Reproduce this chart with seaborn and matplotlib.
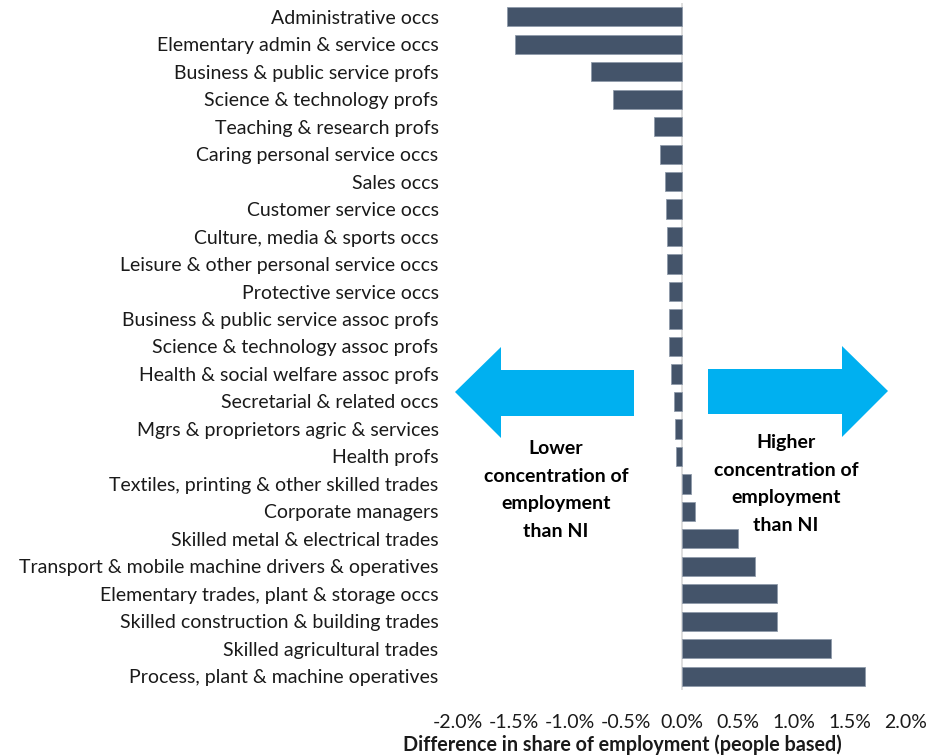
import matplotlib
matplotlib.use("Agg")
import matplotlib.pyplot as plt
from matplotlib.patches import Polygon
from matplotlib.ticker import FuncFormatter
import seaborn as sns
import pandas as pd

categories = [
    "Administrative occs",
    "Elementary admin & service occs",
    "Business & public service profs",
    "Science & technology profs",
    "Teaching & research profs",
    "Caring personal service occs",
    "Sales occs",
    "Customer service occs",
    "Culture, media & sports occs",
    "Leisure & other personal service occs",
    "Protective service occs",
    "Business & public service assoc profs",
    "Science & technology assoc profs",
    "Health & social welfare assoc profs",
    "Secretarial & related occs",
    "Mgrs & proprietors agric & services",
    "Health profs",
    "Textiles, printing & other skilled trades",
    "Corporate managers",
    "Skilled metal & electrical trades",
    "Transport & mobile machine drivers & operatives",
    "Elementary trades, plant & storage occs",
    "Skilled construction & building trades",
    "Skilled agricultural trades",
    "Process, plant & machine operatives",
]
values = [-1.56, -1.49, -0.81, -0.62, -0.25, -0.20, -0.15, -0.14, -0.13, -0.13,
          -0.12, -0.12, -0.12, -0.10, -0.07, -0.06, -0.05, 0.08, 0.12, 0.50,
          0.65, 0.85, 0.85, 1.33, 1.63]
xticks = [-2.0, -1.5, -1.0, -0.5, 0.0, 0.5, 1.0, 1.5, 2.0]
xlabel = "Difference in share of employment (people based)"
left_text = "Lower\nconcentration of\nemployment\nthan NI"
right_text = "Higher\nconcentration of\nemployment\nthan NI"

df = pd.DataFrame({"category": categories, "value": values})

sns.set_theme(style="white")
plt.rcParams["font.family"] = ["Lato", "DejaVu Sans"]

W, H = 941, 756
fig = plt.figure(figsize=(W / 100, H / 100), dpi=100)
ax = fig.add_axes([458 / W, 1 - 690 / H, (906 - 458) / W, (690 - 3) / H])

sns.barplot(data=df, x="value", y="category", orient="h", color="#44546A",
            saturation=1, width=0.7, edgecolor="#8E9AAA", linewidth=0.6, ax=ax)

ax.set_xlim(-2.0, 2.0)
ax.set_xticks(xticks)
ax.xaxis.set_major_formatter(FuncFormatter(lambda v, p: f"{v:.1f}%"))
ax.tick_params(axis="x", labelsize=14, colors="#1a1a1a", length=0, pad=17)
ax.tick_params(axis="y", labelsize=14, colors="#1a1a1a", length=0, pad=14)
ax.set_ylabel("")
ax.set_xlabel("")
for s in ax.spines.values():
    s.set_visible(False)
ax.axvline(0, color="#D9D9D9", linewidth=1.2, zorder=0.5)

fig.text(622 / W, 1 - 745 / H, xlabel, ha="center", va="center",
         fontsize=14.2, fontweight="bold", color="#1a1a1a")

def px(x, y):
    return (x / W, 1 - y / H)

arrow_color = "#00B0F0"
left_arrow = [px(455, 392), px(501, 347), px(501, 370), px(634, 370),
              px(634, 416), px(501, 416), px(501, 438)]
right_arrow = [px(888, 391), px(842, 346), px(842, 369), px(708, 369),
               px(708, 414), px(842, 414), px(842, 437)]
for pts in (left_arrow, right_arrow):
    fig.patches.append(Polygon(pts, closed=True, facecolor=arrow_color,
                               edgecolor="none", transform=fig.transFigure))

fig.text(556 / W, 1 - 490 / H, left_text, ha="center", va="center",
         fontsize=14, fontweight="bold", color="black", linespacing=1.78)
fig.text(786 / W, 1 - 484 / H, right_text, ha="center", va="center",
         fontsize=14, fontweight="bold", color="black", linespacing=1.78)

fig.savefig("out.png", dpi=100)
